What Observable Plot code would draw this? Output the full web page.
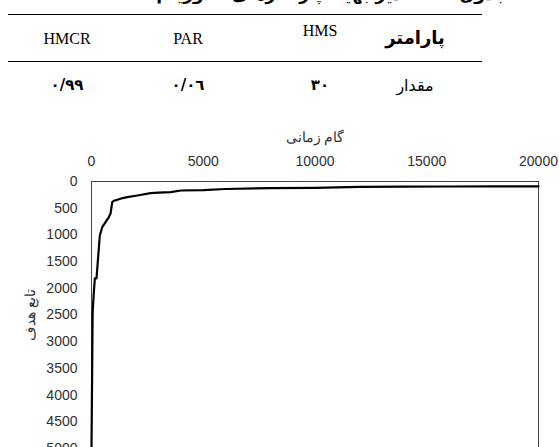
<!DOCTYPE html>
<html><head><meta charset="utf-8">
<script src="https://cdn.jsdelivr.net/npm/d3@7"></script>
<script src="https://cdn.jsdelivr.net/npm/@observablehq/plot@0.6"></script>
<style>
body{margin:0;background:#fff;width:559px;height:447px;overflow:hidden;position:relative;}
.t{position:absolute;white-space:nowrap;}
.hr{position:absolute;left:8px;width:474px;height:0;border-top:1.6px solid #000;}
#chart{position:absolute;left:0;top:120px;}
</style></head>
<body>
<div class="t" style="right:52px;top:-16px;font:bold 17px 'DejaVu Sans';direction:rtl;">جدول ۲- مقادیر بهینه پارامترهای الگوریتم.</div>
<div class="hr" style="top:14px"></div>
<div class="hr" style="top:61px"></div>
<div id="tbl"></div>
<div id="chart"></div>
<script>
const headers = ["HMCR", "PAR", "HMS", "پارامتر"];
const rowValues = ["۰/۹۹", "۰/۰٦", "۳۰", "مقدار"];
const steps = [0, 30, 50, 100, 150, 224, 300, 372, 480, 600, 673, 760, 852, 928, 1000, 1152, 1400, 1600, 2050, 2645, 3000, 3540, 4000, 5000, 6000, 8000, 10000, 12000, 14000, 16000, 18000, 20000];
const objective = [5000, 3500, 2470, 2100, 1816, 1816, 1400, 1011, 856, 780, 730, 680, 600, 387, 360, 343, 310, 294, 262, 219, 210, 200, 169, 160, 140, 125, 118, 100, 96, 94, 92, 90];
const xTicks = [0, 5000, 10000, 15000, 20000];
const yTicks = [0, 500, 1000, 1500, 2000, 2500, 3000, 3500, 4000, 4500, 5000];

// table
const colX = [67, 188, 320, 415];
const tbl = document.getElementById("tbl");
headers.forEach((h, i) => {
  const d = document.createElement("div");
  d.className = "t";
  d.textContent = h;
  const persian = i === 3;
  d.style.font = persian ? "bold 18px 'DejaVu Sans'" : "16px 'Liberation Serif'";
  d.style.left = colX[i] + "px";
  d.style.transform = "translateX(-50%)";
  d.style.top = (i === 2 ? 22 : persian ? 27 : 30) + "px";
  tbl.appendChild(d);
});
rowValues.forEach((h, i) => {
  const d = document.createElement("div");
  d.className = "t";
  d.textContent = h;
  d.style.font = i === 3 ? "16px 'DejaVu Sans'" : "bold 15px 'DejaVu Sans'";
  d.style.left = colX[i] + "px";
  d.style.transform = "translateX(-50%)";
  d.style.top = "76px";
  tbl.appendChild(d);
});

const data = steps.map((s, i) => ({step: s, value: objective[i]}));
const plot = Plot.plot({
  width: 559,
  height: 348,
  marginTop: 61,
  marginLeft: 91,
  marginRight: 21,
  marginBottom: 20,
  style: {fontFamily: "'Liberation Sans', sans-serif", fontSize: "14px", color: "#303030"},
  x: {domain: [0, 20000]},
  y: {domain: [0, 5000], reverse: true},
  marks: [
    Plot.axisX({anchor: "top", ticks: xTicks, tickSize: 0, tickPadding: 16, tickFormat: d => String(d),
      label: "گام زمانی", labelAnchor: "center", labelArrow: "none", labelOffset: 49, fontSize: 14}),
    Plot.axisY({anchor: "left", ticks: yTicks, tickSize: 0, tickPadding: 14, tickFormat: d => String(d),
      label: "تابع هدف", labelAnchor: "center", labelArrow: "none", labelOffset: 66, fontSize: 14}),
    Plot.frame({stroke: "#444", strokeWidth: 1}),
    Plot.line(data, {x: "step", y: "value", stroke: "#000", strokeWidth: 2.2})
  ]
});
document.getElementById("chart").appendChild(plot);
</script>
</body></html>
